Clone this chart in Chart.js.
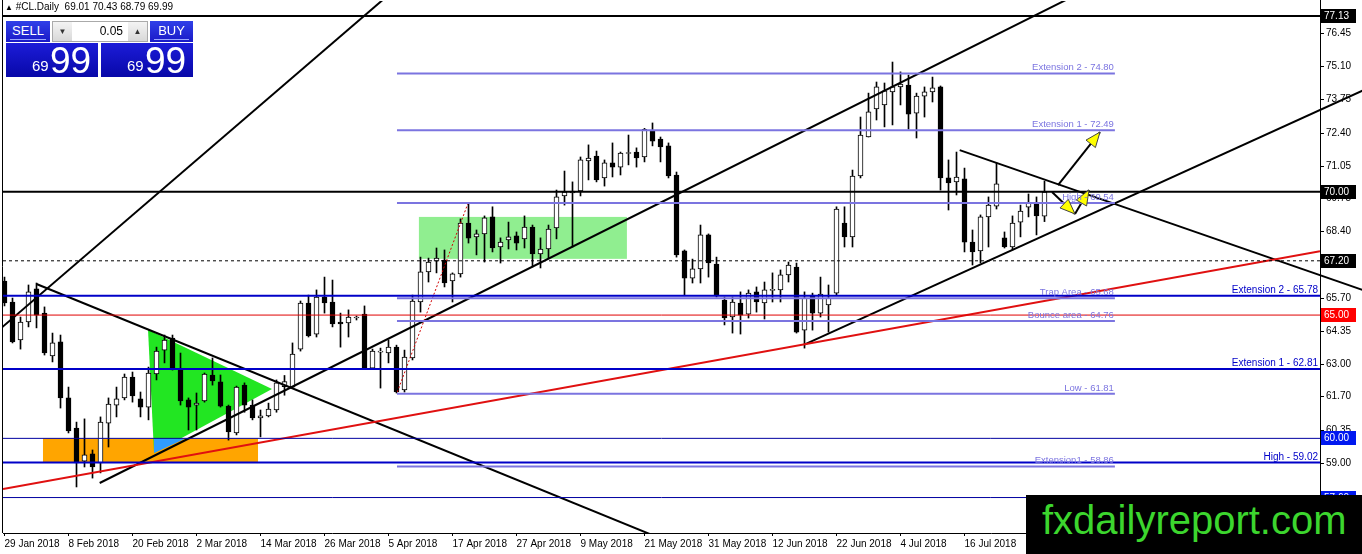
<!DOCTYPE html>
<html>
<head>
<meta charset="utf-8">
<script src="https://cdn.jsdelivr.net/npm/chart.js@4.4.1/dist/chart.umd.min.js"></script>
<style>
  html, body { margin: 0; padding: 0; background: #fff; }
  #wrap { position: relative; width: 1362px; height: 554px; overflow: hidden; font-family: "Liberation Sans", Arial, sans-serif; }
  canvas { position: absolute; left: 0; top: 0; }
  #hdr { position: absolute; left: 5px; top: 1px; font-size: 10px; color: #000; white-space: pre; line-height: 12px; }
  #hdr .tri { font-size: 8px; }
  .box { position: absolute; box-sizing: border-box; color: #fff; }
  .btn { background: linear-gradient(#3040e8, #1a1ac8); font-size: 13px; text-align: center; line-height: 19px; height: 21px; top: 21px; }
  .btn:after { content: ""; position: absolute; left: 4px; right: 4px; bottom: 2px; height: 1px; background: #9aa6ff; }
  #lot { position: absolute; left: 52px; top: 21px; width: 96px; height: 21px; background: #fff; border: 1px solid #aaa; box-sizing: border-box; font-size: 12px; }
  #lot .sp { position: absolute; top: 0; width: 19px; height: 19px; background: linear-gradient(#f4f4f4, #d8d8d8); color: #333; font-size: 8px; text-align: center; line-height: 19px; }
  #lot .v { position: absolute; right: 24px; top: 2px; color: #000; }
  .px { top: 43px; height: 34px; background: linear-gradient(#1c1cd8, #0808a8); }
  .px .s { position: absolute; top: 14px; font-size: 15px; }
  .px .b { position: absolute; top: -3px; font-size: 37px; }
  #logo { position: absolute; left: 1026px; top: 495px; width: 336px; height: 59px; background: #000; }
  #logo span { position: absolute; left: 16px; top: 3px; font-size: 40px; color: #3cd62e; font-family: "Liberation Sans", Arial, sans-serif; }
</style>
</head>
<body>
<div id="wrap">
  <canvas id="c" width="1362" height="554"></canvas>
  <div id="hdr"><span class="tri">▲</span> #CL.Daily  69.01 70.43 68.79 69.99</div>
  <div class="box btn" style="left:6px;width:44px;">SELL</div>
  <div id="lot"><span class="sp" style="left:0">▼</span><span class="v">0.05</span><span class="sp" style="right:0">▲</span></div>
  <div class="box btn" style="left:150px;width:43px;">BUY</div>
  <div class="box px" style="left:6px;width:92px;"><span class="s" style="left:26px">69</span><span class="b" style="left:44px">99</span></div>
  <div class="box px" style="left:101px;width:92px;"><span class="s" style="left:26px">69</span><span class="b" style="left:44px">99</span></div>
  <div id="logo"><span>fxdailyreport.com</span></div>
</div>
<script>
// daily candles #CL, 29 Jan 2018 onwards (index = bar number)
const opens = [66.38,65.53,63.99,64.72,66.06,65.08,63.34,63.91,61.64,60.42,59.08,59.37,59.00,60.62,61.35,61.64,62.49,61.60,61.27,62.61,
  63.58,64.07,62.81,61.56,61.35,61.52,62.57,62.29,61.31,60.22,62.16,61.35,60.83,60.91,61.15,62.10,62.08,63.62,65.49,64.23,
  65.73,65.53,64.72,64.68,64.88,65.04,62.85,63.50,63.46,63.70,61.96,63.26,65.53,66.75,67.19,67.23,66.38,66.67,68.73,68.17,
  68.29,68.98,67.76,68.05,68.21,68.09,68.57,67.48,67.68,68.53,69.83,69.95,70.03,71.25,71.45,70.56,71.17,71.00,71.55,71.61,
  71.41,72.46,72.14,71.86,70.68,67.60,66.50,66.87,68.25,67.07,65.61,64.92,65.49,65.04,65.94,65.49,66.00,66.02,66.63,66.95,
  64.39,65.81,65.08,65.41,65.89,68.73,68.17,70.64,72.22,73.36,73.52,74.05,74.25,74.33,73.19,73.88,74.05,74.25,70.56,70.40,
  70.52,67.96,67.60,68.98,69.42,68.13,67.76,68.77,69.38,69.50,69.01];
const highs = [66.54,65.69,64.92,66.22,66.30,65.33,64.27,64.19,62.08,60.66,60.79,59.53,60.87,61.64,62.08,62.61,62.69,61.88,62.89,63.70,
  64.19,64.19,63.46,61.64,61.84,62.65,63.26,62.57,61.35,62.12,62.25,61.56,61.15,61.43,62.37,62.55,63.87,65.57,65.81,66.02,
  66.54,66.42,65.08,65.21,64.96,65.37,63.62,63.66,63.99,63.78,63.58,65.81,67.35,67.31,67.72,67.64,66.71,68.90,69.50,68.45,
  69.02,69.39,68.13,68.77,68.37,69.02,68.65,68.13,68.65,70.07,70.84,70.40,71.41,71.90,71.65,71.29,71.98,71.61,72.30,71.78,
  72.57,72.79,72.22,71.98,70.80,67.64,67.27,68.65,68.29,67.35,65.73,65.73,65.94,66.02,66.14,66.34,66.71,66.83,67.15,67.11,
  65.94,65.89,66.54,66.22,69.39,69.39,70.88,73.03,74.00,74.45,74.41,75.26,74.86,74.73,74.00,74.25,74.65,74.29,71.29,71.61,
  70.96,68.45,69.06,69.79,71.17,68.37,69.02,69.46,69.91,69.79,70.43];
const lows = [65.37,63.87,63.62,64.52,64.48,63.38,63.10,61.23,60.22,58.03,58.84,58.39,58.60,59.65,60.87,61.56,61.47,60.87,60.75,62.37,
  63.06,62.77,61.35,60.34,60.34,61.47,62.16,61.27,59.93,60.14,61.06,60.75,60.06,60.87,61.06,61.75,62.04,63.54,64.11,64.11,
  65.08,64.52,63.70,64.11,64.80,62.81,62.81,62.04,63.06,61.84,61.88,63.18,65.12,66.34,66.71,66.14,65.53,66.54,67.92,67.44,
  67.15,67.56,67.11,67.68,67.64,67.72,66.95,66.91,67.31,68.09,69.46,67.76,69.83,70.48,70.40,70.23,70.60,70.68,71.09,71.00,
  71.21,71.86,71.21,70.56,67.35,65.81,66.30,66.30,66.54,65.73,64.60,64.27,64.23,64.88,65.12,64.84,65.53,65.53,66.34,64.27,
  63.66,64.39,64.92,64.31,65.81,67.76,67.76,70.56,72.22,72.91,72.63,72.71,73.52,72.54,72.18,73.03,73.64,70.07,69.26,69.87,
  67.56,67.03,67.11,67.76,69.30,67.72,67.64,68.17,68.98,68.25,68.79];
const closes = [65.49,63.91,64.72,65.94,65.00,63.46,63.87,61.64,60.30,59.00,59.33,58.84,60.66,61.39,61.60,62.49,61.72,61.27,62.65,63.54,
  63.99,62.85,61.52,61.27,61.43,62.61,62.33,61.31,60.26,62.08,61.35,60.83,60.91,61.19,62.25,62.30,63.42,65.49,64.15,65.73,
  65.49,64.64,64.64,64.92,64.88,62.85,63.54,63.54,63.70,61.88,63.30,65.57,66.75,67.15,67.31,66.30,66.67,68.73,68.12,68.29,
  68.94,67.72,67.96,68.17,67.92,68.57,67.48,67.68,68.49,69.79,69.99,70.03,71.29,71.37,70.48,71.17,71.00,71.57,71.59,71.37,
  72.53,72.05,71.82,70.64,67.44,66.50,66.87,68.25,67.11,65.81,64.88,65.53,65.00,65.89,65.53,66.02,66.04,66.63,67.03,64.31,
  65.69,65.08,65.85,65.69,69.30,68.17,70.64,72.30,73.24,74.25,74.09,74.25,74.37,73.15,73.88,74.05,74.21,70.56,70.36,70.60,
  67.96,67.56,68.98,69.46,70.32,67.76,68.73,69.22,69.54,69.02,69.99];

// time axis labels, one every 8 bars
const dateLabels = ['29 Jan 2018','8 Feb 2018','20 Feb 2018','2 Mar 2018','14 Mar 2018','26 Mar 2018','5 Apr 2018','17 Apr 2018',
  '27 Apr 2018','9 May 2018','21 May 2018','31 May 2018','12 Jun 2018','22 Jun 2018','4 Jul 2018','16 Jul 2018','26 Jul 2018'];
const dateTicks = dateLabels.map((d, k) => k * 8);

// price scale
const priceTicks = [76.45,75.10,73.75,72.40,71.05,69.75,68.40,67.05,65.70,64.35,63.00,61.70,60.35,59.00,57.65];
const markedPrices = [77.13, 70.00, 67.20, 65.00, 60.00, 57.60];
const XMIN = -0.1875, XMAX = 164.4375;
const YMIN = 56.163, YMAX = 77.735;

// horizontal lines
const blackLevels = [77.13, 70.00];
const dashedLevel = 67.20;
const redLevel = 65.00;
const navyLevels = [60.00, 57.60];
const blueLevels = [65.78, 62.81, 59.02];
const blueNames = ['Extension 2 - 65.78', 'Extension 1 - 62.81', 'High - 59.02'];
const fiboLevels = [74.80, 72.49, 69.54, 65.68, 64.76, 61.81, 58.86];
const fiboNames = ['Extension 2 - 74.80','Extension 1 - 72.49','High - 69.54','Trap Area - 65.68','Bounce area - 64.76','Low - 61.81','Extension1 - 58.86'];
const fiboFrom = 49.06, fiboTo = 138.8;

// trend lines [bar, price]
const trendA = [[-0.5, 64.45], [48.5, 78.12]];
const trendB = [[4, 66.26], [84, 55.68]];
const trendD = [[11.9, 58.19], [138, 78.64]];
const trendE = [[99.9, 63.79], [170, 74.14]];
const trendF = [[119.4, 71.69], [170, 65.99]];
const redTrend = [[XMIN, 57.95], [XMAX, 67.59]];
const redDotted = [[49.1, 61.88], [57.9, 69.50]];

// zones [bar, price]
const zoneLight = [[51.8, 67.28], [77.8, 68.98]];
const zoneOrange = [[4.81, 59.02], [31.69, 60.00]];
const triGreen = [[17.94, 64.40], [18.69, 59.41], [33.44, 62.00]];
const triOverlap = [[18.69, 59.97], [22.5, 59.97], [18.69, 59.41]];

// arrows [from, to]
const arrows = [
  [[131.69, 70.27], [136.94, 72.42]],
  [[130.94, 69.99], [133.81, 69.10]],
  [[133.81, 69.10], [135.56, 70.07]]
];

const FONT = '"Liberation Sans", Arial, sans-serif';
const BLUE = '#0000c8', PURPLE = '#7b74e0', NAVY = '#0000a0';

function pts(arr) { return arr.map(p => ({x: p[0], y: p[1]})); }
function seg(arr, color, width, extra) {
  return Object.assign({type: 'line', data: pts(arr), borderColor: color, borderWidth: width,
    pointRadius: 0, fill: false, tension: 0, order: 1}, extra || {});
}
function hline(v, color, width, extra) { return seg([[XMIN, v], [XMAX, v]], color, width, extra); }

const bull = closes.map((c, i) => c >= opens[i]);
const rayClip = {left: 0, top: 0, right: 50, bottom: 0};

const datasets = [
  {type: 'bar', data: lows.map((l, i) => ({x: i, y: [l, highs[i]]})), backgroundColor: '#000',
   barThickness: 1, grouped: false, order: 11},
  {type: 'bar', data: opens.map((o, i) => ({x: i, y: [o, closes[i]]})),
   backgroundColor: bull.map(b => b ? '#fff' : '#000'), borderColor: '#000', borderWidth: 1,
   borderSkipped: false, barThickness: 5, minBarLength: 1, grouped: false, order: 10},
  ...fiboLevels.map(v => seg([[fiboFrom, v], [fiboTo, v]], PURPLE, 2)),
  ...blueLevels.map(v => hline(v, BLUE, 2)),
  ...blackLevels.map(v => hline(v, '#000', 2)),
  hline(dashedLevel, '#000', 1, {borderDash: [3, 3]}),
  hline(redLevel, '#e00000', 1),
  ...navyLevels.map(v => hline(v, NAVY, 1)),
  seg(redTrend, '#e01010', 2),
  seg(redDotted, '#d00000', 1, {borderDash: [2, 2]}),
  seg(trendA, '#000', 2),
  seg(trendB, '#000', 2),
  seg(trendD, '#000', 2),
  seg(trendE, '#000', 2, {clip: rayClip}),
  seg(trendF, '#000', 2, {clip: rayClip}),
  ...arrows.map(a => seg(a, '#000', 2, {clip: rayClip}))
];

function X(c, v) { return c.scales.x.getPixelForValue(v); }
function Y(c, v) { return c.scales.y.getPixelForValue(v); }

const drawings = {
  id: 'drawings',
  beforeDatasetsDraw(c) {
    const ctx = c.ctx, a = c.chartArea;
    ctx.save();
    ctx.beginPath(); ctx.rect(a.left, a.top, a.right - a.left, a.bottom - a.top); ctx.clip();
    const rect = (z, col) => {
      ctx.fillStyle = col;
      ctx.fillRect(X(c, z[0][0]), Y(c, z[1][1]), X(c, z[1][0]) - X(c, z[0][0]), Y(c, z[0][1]) - Y(c, z[1][1]));
    };
    const poly = (p, col) => {
      ctx.fillStyle = col; ctx.beginPath();
      p.forEach((q, k) => k ? ctx.lineTo(X(c, q[0]), Y(c, q[1])) : ctx.moveTo(X(c, q[0]), Y(c, q[1])));
      ctx.closePath(); ctx.fill();
    };
    rect(zoneLight, '#90ee90');
    rect(zoneOrange, '#ffa500');
    poly(triGreen, '#22e622');
    poly(triOverlap, '#2f9cff');
    ctx.restore();

    // price scale
    ctx.save();
    ctx.strokeStyle = '#000'; ctx.lineWidth = 1;
    ctx.beginPath();
    ctx.moveTo(a.right + 0.5, 0); ctx.lineTo(a.right + 0.5, 554);
    ctx.moveTo(2.5, 0); ctx.lineTo(2.5, a.bottom);
    ctx.stroke();
    ctx.font = '10px ' + FONT; ctx.fillStyle = '#000'; ctx.textBaseline = 'middle'; ctx.textAlign = 'left';
    priceTicks.forEach(v => {
      const y = Math.round(Y(c, v)) + 0.5;
      ctx.beginPath(); ctx.moveTo(a.right, y); ctx.lineTo(a.right + 4, y); ctx.stroke();
      ctx.fillText(v.toFixed(2), a.right + 6, y);
    });
    ctx.restore();
  },
  afterDatasetsDraw(c) {
    const ctx = c.ctx, a = c.chartArea;
    ctx.save();
    // arrow heads
    arrows.forEach(ar => {
      const x1 = X(c, ar[0][0]), y1 = Y(c, ar[0][1]), x2 = X(c, ar[1][0]), y2 = Y(c, ar[1][1]);
      const ang = Math.atan2(y2 - y1, x2 - x1), L = 15, W = 6;
      const bx = x2 - L * Math.cos(ang), by = y2 - L * Math.sin(ang);
      ctx.beginPath();
      ctx.moveTo(x2, y2);
      ctx.lineTo(bx + W * Math.sin(ang), by - W * Math.cos(ang));
      ctx.lineTo(bx - W * Math.sin(ang), by + W * Math.cos(ang));
      ctx.closePath();
      ctx.fillStyle = '#ffff00'; ctx.fill();
      ctx.strokeStyle = '#444'; ctx.lineWidth = 1; ctx.stroke();
    });
    // level captions
    ctx.font = '9.5px ' + FONT; ctx.textAlign = 'right'; ctx.textBaseline = 'alphabetic';
    ctx.fillStyle = PURPLE;
    fiboLevels.forEach((v, k) => ctx.fillText(fiboNames[k], X(c, fiboTo) - 1, Y(c, v) - 3));
    ctx.font = '10px ' + FONT; ctx.fillStyle = BLUE;
    blueLevels.forEach((v, k) => ctx.fillText(blueNames[k], a.right - 2, Y(c, v) - 3));
    // marked price boxes
    const boxCol = ['#000', '#000', '#000', '#ff0000', '#0018f0', '#0018f0'];
    ctx.textAlign = 'left'; ctx.textBaseline = 'middle'; ctx.font = '10px ' + FONT;
    markedPrices.forEach((v, k) => {
      const y = Math.round(Y(c, v));
      ctx.fillStyle = boxCol[k];
      ctx.fillRect(a.right + 1, y - 7, 35, 14);
      ctx.fillStyle = '#fff';
      ctx.fillText(v.toFixed(2), a.right + 4, y);
    });
    ctx.restore();
  }
};

new Chart(document.getElementById('c'), {
  type: 'bar',
  data: {datasets},
  options: {
    responsive: false,
    animation: false,
    events: [],
    layout: {padding: {left: 3, top: 1, right: 42, bottom: 0}},
    plugins: {legend: {display: false}, tooltip: {enabled: false}},
    scales: {
      x: {
        type: 'linear', min: XMIN, max: XMAX, offset: false,
        grid: {display: true, drawOnChartArea: false, drawTicks: true, tickLength: 3, color: '#000', offset: false},
        border: {display: true, color: '#000', width: 1},
        ticks: {align: 'start', padding: 2, maxRotation: 0, autoSkip: false, color: '#000',
          font: {family: FONT, size: 10},
          callback: v => dateLabels[Math.round(v / 8)] || ''},
        afterBuildTicks: s => { s.ticks = dateTicks.map(v => ({value: v})); },
        afterFit: s => { s.height = 21; }
      },
      y: {type: 'linear', display: false, min: YMIN, max: YMAX}
    }
  },
  plugins: [drawings]
});
</script>
</body>
</html>
